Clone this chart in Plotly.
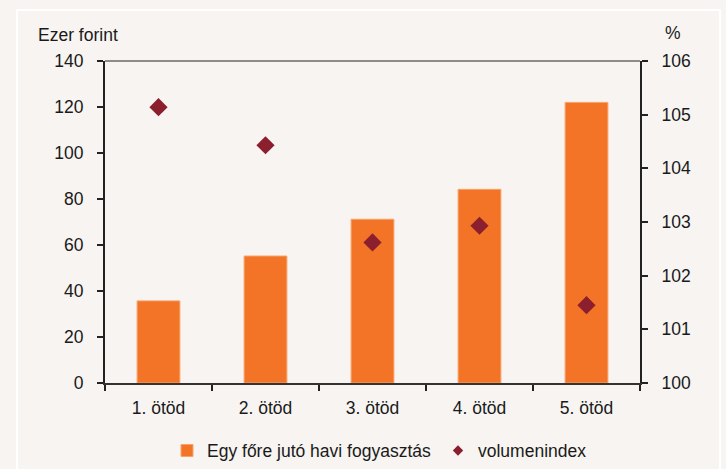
import plotly.graph_objects as go

categories = ["1. ötöd", "2. ötöd", "3. ötöd", "4. ötöd", "5. ötöd"]
fogyasztas = [35.7, 55.2, 71.2, 84.2, 122.0]
volumenindex = [105.14, 104.43, 102.62, 102.93, 101.45]
left_ticks = [0, 20, 40, 60, 80, 100, 120, 140]
right_ticks = [100, 101, 102, 103, 104, 105, 106]

FONT = "Liberation Sans, Arial, sans-serif"
FS = 17.5
BG = "#F7F4F1"
ORANGE = "#F37427"
RED = "#8B1F2D"

fig = go.Figure()
fig.add_trace(go.Bar(
    x=categories, y=fogyasztas, name="Egy főre jutó havi fogyasztás",
    marker=dict(color=ORANGE, line=dict(color="#F8A36A", width=1)),
    yaxis="y", xaxis="x", legend="legend",
))
fig.add_trace(go.Scatter(
    x=categories, y=volumenindex, name="volumenindex", mode="markers",
    marker=dict(symbol="diamond", size=14, color=RED),
    yaxis="y2", xaxis="x", showlegend=False,
))
fig.add_trace(go.Scatter(
    x=[None], y=[None], name="volumenindex", mode="markers",
    marker=dict(symbol="diamond", size=8, color=RED),
    yaxis="y2", xaxis="x", showlegend=True, legend="legend2",
))

legend_common = dict(orientation="h", xref="container", xanchor="left",
                     y=-0.21, yanchor="middle", font=dict(size=FS),
                     bgcolor="rgba(0,0,0,0)")

fig.update_layout(
    width=726, height=469,
    margin=dict(l=105, r=86, t=61, b=86, autoexpand=False),
    paper_bgcolor=BG, plot_bgcolor=BG,
    font=dict(family=FONT, size=FS, color="#1a1a1a"),
    bargap=0.6,
    showlegend=True,
    legend=dict(x=167 / 726, **legend_common),
    legend2=dict(x=438 / 726, **legend_common),
    xaxis=dict(
        type="category", tickson="boundaries", ticks="outside", ticklen=6,
        tickcolor="#222", tickwidth=1.5, showline=True, linecolor="#333", linewidth=2,
        showgrid=False, zeroline=False, ticklabelstandoff=8,
    ),
    xaxis3=dict(
        overlaying="x", anchor="y", range=[-0.5, 4.5], tickvals=[-0.5, 0.5, 1.5, 2.5, 3.5, 4.5],
        ticks="inside", ticklen=6, tickcolor="#222", tickwidth=1.5,
        showticklabels=False, showline=False, showgrid=False, zeroline=False,
    ),
    yaxis=dict(
        range=[0, 140], tickvals=left_ticks, ticks="outside", ticklen=6,
        tickcolor="#222", tickwidth=1.5, showline=True, linecolor="#222", linewidth=2,
        showgrid=False, zeroline=False, ticklabelstandoff=10,
    ),
    yaxis2=dict(
        range=[100, 106], tickvals=right_ticks, overlaying="y", side="right",
        ticks="outside", ticklen=6, tickcolor="#222", tickwidth=1.5,
        showline=True, linecolor="#222", linewidth=2, showgrid=False, zeroline=False,
        ticklabelstandoff=10,
    ),
    yaxis3=dict(
        range=[0, 140], tickvals=left_ticks, overlaying="y", side="left",
        ticks="inside", ticklen=6, tickcolor="#222", tickwidth=1.5,
        showticklabels=False, showline=False, showgrid=False, zeroline=False,
    ),
    yaxis4=dict(
        range=[100, 106], tickvals=right_ticks, overlaying="y", side="right",
        ticks="inside", ticklen=6, tickcolor="#222", tickwidth=1.5,
        showticklabels=False, showline=False, showgrid=False, zeroline=False,
    ),
    shapes=[
        dict(type="line", xref="paper", yref="paper", x0=0, x1=1, y0=1, y1=1,
             line=dict(color="#8c8c8c", width=2), layer="above"),
        dict(type="rect", xref="paper", yref="paper",
             x0=(17 - 105) / 535, x1=(720 - 105) / 535,
             y0=(383 - 480) / 322, y1=(383 - 10) / 322,
             line=dict(color="#ffffff", width=2), layer="below"),
    ],
    annotations=[
        dict(text="Ezer forint", xref="paper", yref="paper", x=(36 - 105) / 535, xanchor="left",
             y=(383 - 35) / 322, yanchor="middle", showarrow=False, font=dict(size=FS)),
        dict(text="%", xref="paper", yref="paper", x=(673 - 105) / 535, xanchor="center",
             y=(383 - 33) / 322, yanchor="middle", showarrow=False, font=dict(size=FS)),
    ],
)

fig.write_html(
    "out.html",
    config={"displayModeBar": False},
    post_script="document.body.style.margin='0';document.body.style.background='#F7F4F1';",
)
